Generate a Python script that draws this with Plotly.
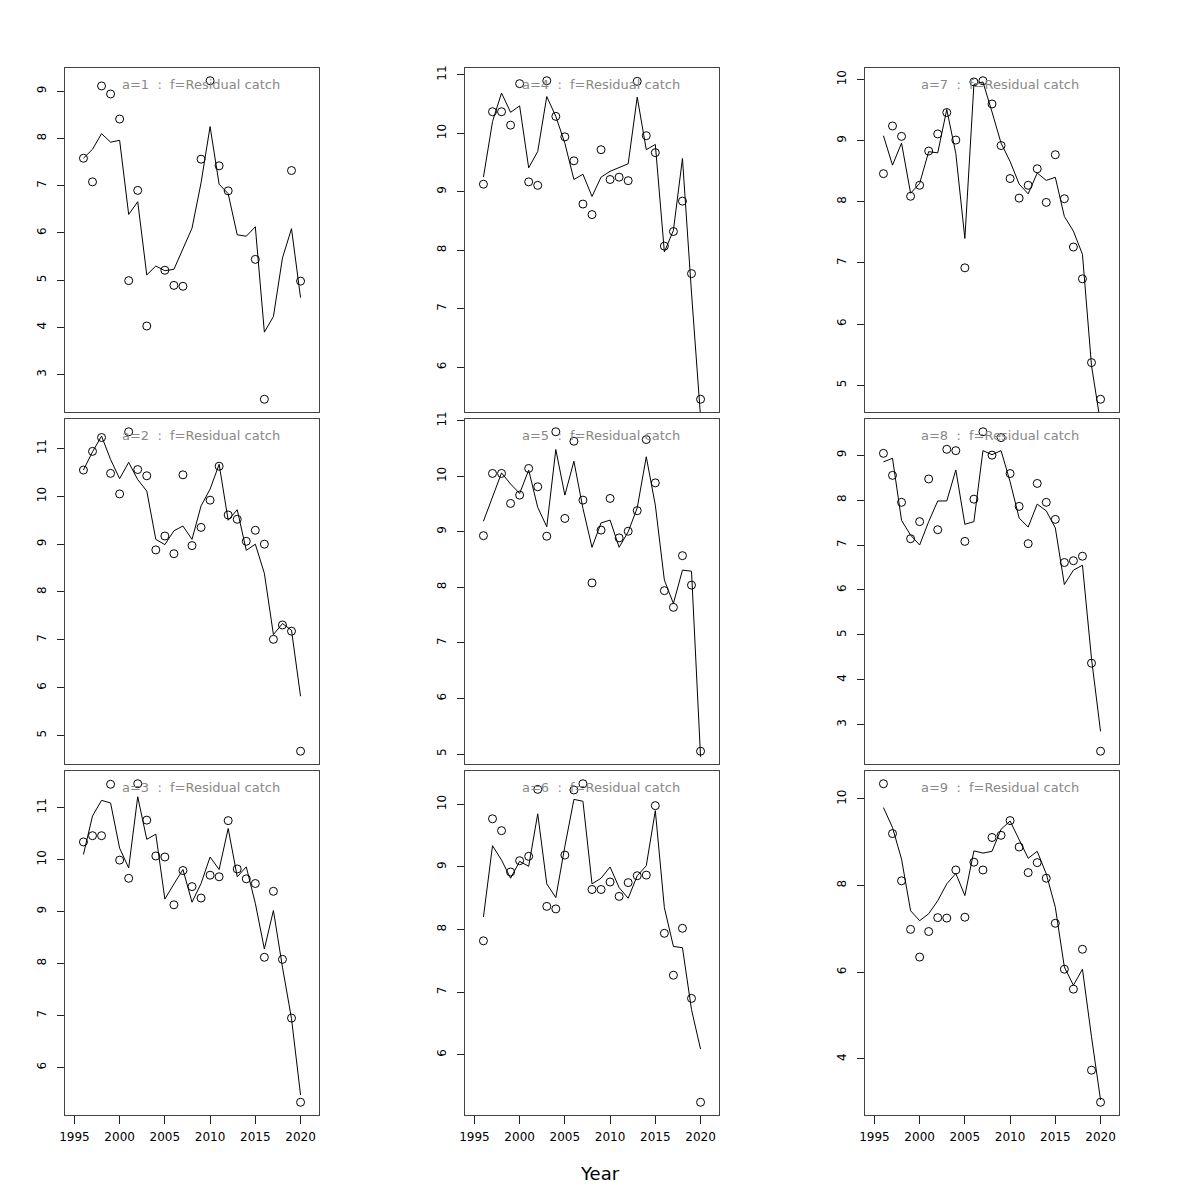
import plotly.graph_objects as go

years = list(range(1996, 2021))
x_ticks = [1995, 2000, 2005, 2010, 2015, 2020]
panel_labels = ["a=1", "a=2", "a=3", "a=4", "a=5", "a=6", "a=7", "a=8", "a=9"]
fleet_label = "f=Residual catch"

N = None
obs_a1 = [7.58, 7.08, 9.11, 8.94, 8.41, 4.99, 6.90, 4.03, N, 5.21, 4.89, 4.87, N, 7.56, 9.22, 7.42, 6.89, N, N, 5.44, 2.48, N, N, 7.32, 4.98]
fit_a1 = [7.58, 7.77, 8.10, 7.92, 7.96, 6.39, 6.66, 5.11, 5.30, 5.20, 5.23, 5.65, 6.10, 7.06, 8.25, 7.03, 6.83, 5.96, 5.93, 6.13, 3.90, 4.23, 5.47, 6.09, 4.63]

obs_a2 = [10.55, 10.94, 11.23, 10.48, 10.05, 11.35, 10.56, 10.43, 8.88, 9.17, 8.80, 10.45, 8.97, 9.35, 9.92, 10.63, 9.61, 9.52, 9.06, 9.29, 9.00, 7.01, 7.31, 7.18, 4.67]
fit_a2 = [10.55, 10.93, 11.26, 10.77, 10.37, 10.71, 10.35, 10.11, 9.10, 8.99, 9.28, 9.38, 9.10, 9.80, 10.15, 10.67, 9.50, 9.72, 8.87, 9.00, 8.39, 7.11, 7.34, 7.20, 5.82]

obs_a3 = [10.34, 10.46, 10.46, 11.45, 9.99, 9.64, 11.46, 10.76, 10.07, 10.05, 9.13, 9.79, 9.48, 9.26, 9.70, 9.67, 10.75, 9.82, 9.63, 9.54, 8.12, 9.39, 8.08, 6.95, 5.33]
fit_a3 = [10.10, 10.84, 11.14, 11.09, 10.22, 9.84, 11.21, 10.39, 10.49, 9.24, 9.53, 9.81, 9.18, 9.54, 10.05, 9.81, 10.60, 9.67, 9.86, 9.16, 8.28, 9.02, 7.93, 6.94, 5.47]

obs_a4 = [9.13, 10.37, 10.37, 10.14, 10.85, 9.17, 9.11, 10.90, 10.29, 9.94, 9.53, 8.79, 8.61, 9.72, 9.21, 9.25, 9.19, 10.89, 9.96, 9.67, 8.07, 8.32, 8.84, 7.60, 5.45]
fit_a4 = [9.25, 10.20, 10.69, 10.36, 10.47, 9.41, 9.69, 10.63, 10.29, 9.83, 9.21, 9.30, 8.92, 9.25, 9.35, 9.41, 9.48, 10.62, 9.72, 9.81, 7.97, 8.34, 9.57, 7.27, 5.15]

obs_a5 = [8.93, 10.05, 10.05, 9.51, 9.66, 10.14, 9.81, 8.92, 10.80, 9.24, 10.63, 9.57, 8.08, 9.03, 9.60, 8.89, 9.01, 9.38, 10.66, 9.88, 7.94, 7.64, 8.57, 8.04, 5.05]
fit_a5 = [9.19, 9.61, 10.06, 9.86, 9.69, 10.11, 9.44, 9.09, 10.48, 9.66, 10.27, 9.42, 8.72, 9.16, 9.21, 8.72, 9.00, 9.43, 10.35, 9.48, 8.13, 7.71, 8.31, 8.29, 4.95]

obs_a6 = [7.82, 9.77, 9.58, 8.92, 9.10, 9.17, 10.24, 8.37, 8.33, 9.19, 10.23, 10.33, 8.64, 8.64, 8.76, 8.53, 8.75, 8.86, 8.87, 9.98, 7.94, 7.27, 8.02, 6.90, 5.24]
fit_a6 = [8.20, 9.34, 9.11, 8.82, 9.09, 9.01, 9.85, 8.73, 8.51, 9.33, 10.08, 10.05, 8.73, 8.82, 9.00, 8.67, 8.50, 8.86, 9.02, 9.90, 8.35, 7.73, 7.71, 6.72, 6.09]

obs_a7 = [8.46, 9.24, 9.07, 8.09, 8.27, 8.83, 9.11, 9.46, 9.01, 6.92, 9.96, 9.98, 9.60, 8.92, 8.38, 8.06, 8.27, 8.54, 7.99, 8.77, 8.05, 7.26, 6.74, 5.37, 4.77]
fit_a7 = [9.08, 8.60, 8.96, 8.14, 8.30, 8.82, 8.80, 9.51, 8.79, 7.40, 9.92, 9.96, 9.47, 8.96, 8.66, 8.29, 8.13, 8.47, 8.35, 8.40, 7.76, 7.52, 7.14, 5.32, 4.38]

obs_a8 = [9.04, 8.55, 7.95, 7.14, 7.52, 8.47, 7.34, 9.13, 9.10, 7.08, 8.02, 9.52, 9.00, 9.39, 8.59, 7.86, 7.03, 8.37, 7.95, 7.57, 6.61, 6.65, 6.75, 4.37, 2.41]
fit_a8 = [8.85, 8.93, 7.55, 7.22, 7.00, 7.52, 7.98, 7.98, 8.67, 7.46, 7.52, 9.10, 9.01, 9.10, 8.41, 7.60, 7.40, 7.91, 7.76, 7.38, 6.12, 6.44, 6.55, 4.47, 2.85]

obs_a9 = [10.35, 9.20, 8.11, 6.99, 6.35, 6.94, 7.26, 7.25, 8.36, 7.27, 8.54, 8.36, 9.11, 9.16, 9.50, 8.89, 8.30, 8.53, 8.17, 7.13, 6.07, 5.61, 6.53, 3.74, 3.00]
fit_a9 = [9.80, 9.34, 8.61, 7.42, 7.19, 7.35, 7.65, 8.04, 8.28, 7.77, 8.80, 8.75, 8.79, 9.30, 9.49, 9.07, 8.63, 8.79, 8.27, 7.50, 6.12, 5.70, 6.07, 4.51, 3.05]

obs_all = [obs_a1, obs_a2, obs_a3, obs_a4, obs_a5, obs_a6, obs_a7, obs_a8, obs_a9]
fit_all = [fit_a1, fit_a2, fit_a3, fit_a4, fit_a5, fit_a6, fit_a7, fit_a8, fit_a9]

# layout (pixel geometry of the panels, in window coordinates; page body has an 8px margin)
W = H = 1200
OFF = 8
col_px = [(65, 319), (465, 719), (865, 1119)]
row_px = [(68, 412), (419, 764), (771, 1115)]
y_dticks = [1, 1, 1, 1, 1, 1, 1, 1, 2]
FONT = "DejaVu Sans"


def px_x(p):
    return (p - OFF) / W


def px_y(p):
    return 1 - (p - OFF) / H


fig = go.Figure()
layout = dict(
    width=W, height=H, margin=dict(l=0, r=0, t=0, b=0, autoexpand=False),
    paper_bgcolor="white", plot_bgcolor="white", showlegend=False,
    font=dict(family=FONT, size=12, color="black"),
)
annotations = []

xr_lo, xr_hi = 1995 - 0.04 * 26, 2021 + 0.04 * 26

for k in range(9):
    col, row = k // 3, k % 3
    idx = "" if k == 0 else str(k + 1)
    xa, ya = "x" + idx, "y" + idx
    obs = obs_all[k]
    fit = fit_all[k]
    fig.add_trace(go.Scatter(x=years, y=fit, mode="lines", xaxis=xa, yaxis=ya,
                             line=dict(color="black", width=1), hoverinfo="skip"))
    fig.add_trace(go.Scatter(x=years, y=obs, mode="markers", xaxis=xa, yaxis=ya,
                             marker=dict(symbol="circle-open", size=8, color="black",
                                         line=dict(width=1, color="black"))))
    vals = [v for v in obs if v is not None]
    lo, hi = min(vals), max(vals)
    pad = 0.04 * (hi - lo)
    x0, x1 = col_px[col]
    y0, y1 = row_px[row]
    xd = [px_x(x0), px_x(x1)]
    yd = [px_y(y1), px_y(y0)]
    bottom = row == 2
    layout["xaxis" + idx] = dict(
        domain=xd, range=[xr_lo, xr_hi], anchor=ya, automargin=False,
        showgrid=False, zeroline=False, showline=True, mirror=True,
        linecolor="#444", linewidth=1,
        tickmode="array", tickvals=x_ticks if bottom else [],
        ticktext=[str(t) for t in x_ticks] if bottom else [],
        ticks="outside" if bottom else "", ticklen=8, tickcolor="#222",
        showticklabels=bottom, tickfont=dict(size=12, family=FONT),
        ticklabelstandoff=3,
    )
    layout["yaxis" + idx] = dict(
        domain=yd, range=[lo - pad, hi + pad], anchor=xa, automargin=False,
        showgrid=False, zeroline=False, showline=True, mirror=True,
        linecolor="#444", linewidth=1,
        dtick=y_dticks[k], tick0=0, ticks="outside", ticklen=7, tickcolor="#222",
        tickangle=-90, tickfont=dict(size=12, family=FONT),
        ticklabelstandoff=6,
    )
    annotations.append(dict(
        text=panel_labels[k] + "\u00a0 : \u00a0" + fleet_label,
        xref="paper", yref="paper",
        x=px_x((x0 + x1) / 2 + 8.5), y=px_y(y0 + 16),
        xanchor="center", yanchor="middle", showarrow=False,
        font=dict(size=13, color="#888888", family=FONT),
    ))

annotations.append(dict(text="Year", xref="paper", yref="paper", x=px_x(600), y=px_y(1173),
                        xanchor="center", yanchor="middle", showarrow=False,
                        font=dict(size=18, color="black", family=FONT)))
layout["annotations"] = annotations
fig.update_layout(**layout)
fig.write_html("out.html")
